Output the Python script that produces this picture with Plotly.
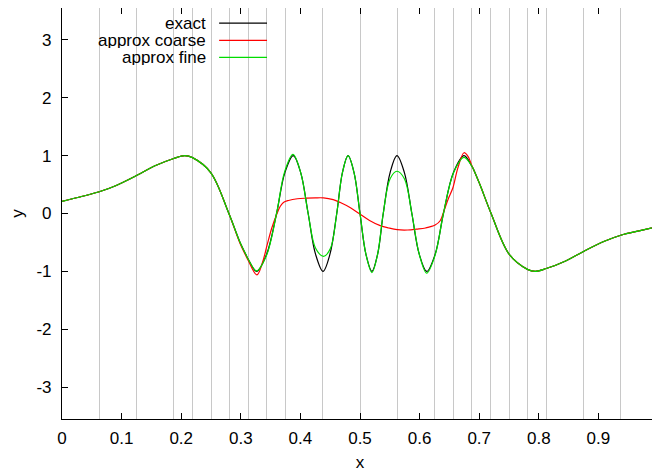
import plotly.graph_objects as go

# ---- data ----
mesh_nodes = [0, 0.0625, 0.125, 0.1875, 0.21875, 0.25, 0.28125, 0.3125, 0.34375, 0.375,
              0.4375, 0.5, 0.5625, 0.625, 0.65625, 0.6875, 0.71875, 0.75, 0.78125, 0.8125,
              0.875, 0.9375, 1.0]

exact_x = [0.0, 0.03, 0.0625, 0.09, 0.125, 0.155, 0.1875, 0.206, 0.219, 0.2495, 0.28,
           0.2988, 0.3085, 0.3125, 0.3265, 0.3432, 0.36, 0.374, 0.388, 0.4005, 0.413,
           0.4255, 0.438, 0.4495, 0.461, 0.4705, 0.48, 0.49, 0.5, 0.51, 0.52, 0.5295,
           0.539, 0.5505, 0.562, 0.5745, 0.587, 0.5995, 0.612, 0.626, 0.64, 0.6568,
           0.6745, 0.6875, 0.6915, 0.7012, 0.72, 0.7505, 0.781, 0.794, 0.8125, 0.845,
           0.875, 0.91, 0.9375, 0.97, 1.0]
exact_y = [0.21, 0.285, 0.375, 0.48, 0.655, 0.82, 0.951, 1.0, 0.965, 0.707, 0.0,
           -0.5, -0.707, -0.79, -1.0, -0.707, 0.0, 0.707, 1.0, 0.707, 0.0,
           -0.707, -1.0, -0.707, 0.0, 0.707, 1.0, 0.707, 0.0, -0.707, -1.0, -0.707,
           0.0, 0.707, 1.0, 0.707, 0.0, -0.707, -1.0, -0.707, 0.0, 0.707,
           1.0, 0.82, 0.74, 0.5, 0.0, -0.707, -0.965, -1.0, -0.951, -0.82,
           -0.655, -0.48, -0.375, -0.295, -0.225]

coarse_x = [0.0, 0.03, 0.0625, 0.09, 0.125, 0.155, 0.1875, 0.206, 0.219, 0.2495, 0.28,
            0.2988, 0.3085, 0.3125, 0.327, 0.336, 0.344, 0.352, 0.36, 0.366, 0.3715,
            0.38, 0.395, 0.411, 0.425, 0.4387, 0.455, 0.467, 0.484, 0.5, 0.516, 0.534,
            0.548, 0.5625, 0.58, 0.595, 0.61, 0.626, 0.6345, 0.641, 0.648, 0.656,
            0.664, 0.6745, 0.681, 0.6875, 0.6915, 0.7012, 0.72, 0.7505, 0.781, 0.794,
            0.8125, 0.845, 0.875, 0.91, 0.9375, 0.97, 1.0]
coarse_y = [0.21, 0.285, 0.375, 0.48, 0.655, 0.82, 0.951, 1.0, 0.965, 0.707, 0.0,
            -0.52, -0.73, -0.81, -1.06, -0.86, -0.55, -0.25, -0.02, 0.12, 0.19,
            0.225, 0.255, 0.265, 0.27, 0.27, 0.24, 0.19, 0.1, -0.01, -0.12, -0.21,
            -0.25, -0.28, -0.285, -0.27, -0.25, -0.2, -0.125, 0.05, 0.25, 0.45,
            0.78, 1.05, 0.99, 0.83, 0.74, 0.5, 0.0, -0.707, -0.965, -1.0,
            -0.951, -0.82, -0.655, -0.48, -0.375, -0.295, -0.225]

fine_x = [0.0, 0.03, 0.0625, 0.09, 0.125, 0.155, 0.1875, 0.206, 0.219, 0.2495, 0.28,
          0.2988, 0.3085, 0.3125, 0.3265, 0.3432, 0.36, 0.3735, 0.3875, 0.4005, 0.413,
          0.4255, 0.439, 0.4505, 0.461, 0.4705, 0.48, 0.49, 0.5, 0.51, 0.52, 0.5295,
          0.539, 0.5505, 0.562, 0.5745, 0.587, 0.5995, 0.612, 0.626, 0.64, 0.6568,
          0.6745, 0.6875, 0.6915, 0.7012, 0.72, 0.7505, 0.781, 0.794, 0.8125, 0.845,
          0.875, 0.91, 0.9375, 0.97, 1.0]
fine_y = [0.21, 0.285, 0.375, 0.48, 0.655, 0.82, 0.951, 1.0, 0.965, 0.707, 0.0,
          -0.5, -0.707, -0.79, -0.99, -0.72, 0.0, 0.72, 1.02, 0.707, 0.0,
          -0.6, -0.74, -0.6, 0.0, 0.707, 1.0, 0.707, 0.0, -0.707, -1.02, -0.707,
          0.0, 0.6, 0.73, 0.6, 0.0, -0.707, -1.03, -0.72, 0.0, 0.7,
          0.97, 0.82, 0.74, 0.5, 0.0, -0.707, -0.965, -1.0, -0.951, -0.82,
          -0.655, -0.48, -0.375, -0.295, -0.225]

series_names = ["exact", "approx coarse", "approx fine"]
series_colors = ["#000000", "#ff0000", "#00dd00"]

x_ticks = [0, 0.1, 0.2, 0.3, 0.4, 0.5, 0.6, 0.7, 0.8, 0.9, 1]
x_tick_text = ["0", "0.1", "0.2", "0.3", "0.4", "0.5", "0.6", "0.7", "0.8", "0.9", "1"]
y_ticks = [-3, -2, -1, 0, 1, 2, 3]
y_tick_text = ["-3", "-2", "-1", "0", "1", "2", "3"]

FONT = "Liberation Sans, Arial, sans-serif"

fig = go.Figure()
for xs, ys, name, col in zip([exact_x, coarse_x, fine_x], [exact_y, coarse_y, fine_y],
                             series_names, series_colors):
    fig.add_trace(go.Scatter(x=xs, y=ys, mode="lines", name=name,
                             line=dict(color=col, width=1.2, shape="spline", smoothing=1.0),
                             showlegend=False, hoverinfo="skip"))

# mesh grid lines via an overlaying axis
fig.add_trace(go.Scatter(x=[mesh_nodes[0]], y=[0], xaxis="x2", mode="markers",
                         marker=dict(opacity=0), showlegend=False, hoverinfo="skip"))

# gnuplot-style legend (text right, sample line left)
legend_rows_y = [0.963, 0.921, 0.880]
for name, col, yy in zip(series_names, series_colors, legend_rows_y):
    fig.add_annotation(x=0.2434, y=yy, xref="paper", yref="paper", text=name,
                       showarrow=False, xanchor="right", yanchor="middle",
                       height=16, valign="middle", borderpad=0,
                       font=dict(family=FONT, size=17, color="#000"))
    fig.add_shape(type="line", xref="paper", yref="paper", x0=0.2636, x1=0.344,
                  y0=yy, y1=yy, line=dict(color=col, width=1.2))

axis_common = dict(showline=True, linecolor="#000", linewidth=1.2, mirror="ticks",
                   ticks="inside", ticklen=6, tickwidth=1, tickcolor="#000",
                   showgrid=False, zeroline=False, automargin=False,
                   ticklabeloverflow="allow",
                   tickfont=dict(family=FONT, size=17, color="#000"))

# the page body keeps its default 8px margin, so the figure is sized 8px smaller
fig.update_layout(
    width=652, height=464,
    margin=dict(l=54, r=2.3, t=0, b=53),
    paper_bgcolor="white", plot_bgcolor="white",
    font=dict(family=FONT, size=17, color="#000"),
    xaxis=dict(range=[0, 1], tickvals=x_ticks, ticktext=x_tick_text,
               ticklabelstandoff=3,
               title=dict(text="x", font=dict(family=FONT, size=17), standoff=16),
               **axis_common),
    xaxis2=dict(range=[0, 1], overlaying="x", side="bottom", tickvals=mesh_nodes,
                showticklabels=False, ticks="", showgrid=True, gridcolor="#c8c8c8",
                gridwidth=1, zeroline=False, showline=False, automargin=False),
    yaxis=dict(range=[-3.55, 3.55], tickvals=y_ticks, ticktext=y_tick_text,
               ticklabelstandoff=6,
               title=dict(text="y", font=dict(family=FONT, size=17), standoff=20),
               **axis_common),
    showlegend=False,
)

fig.write_html("out.html")
